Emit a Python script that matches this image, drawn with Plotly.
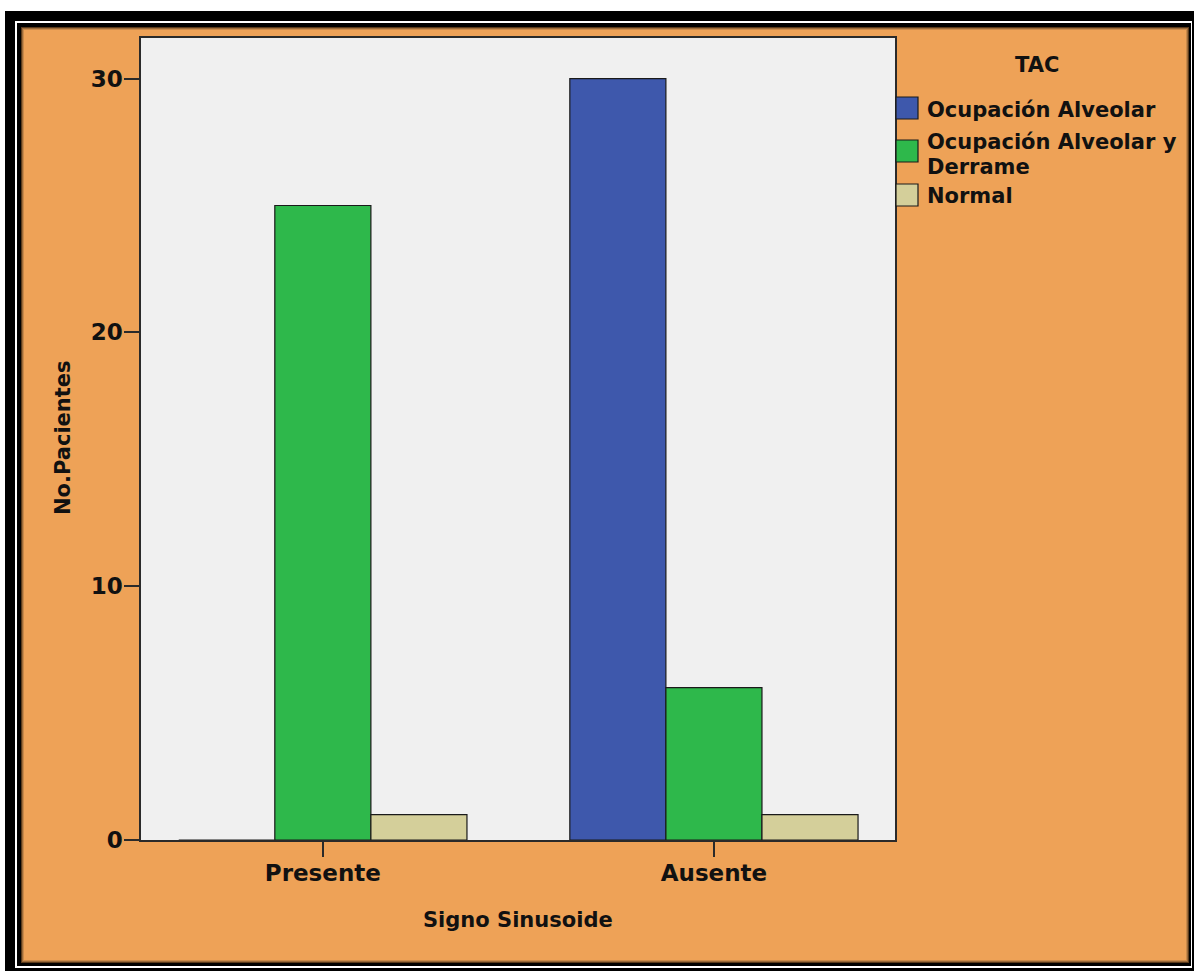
import plotly.graph_objects as go

# Data
categories = ["Presente", "Ausente"]
series_names = ["Ocupación Alveolar", "Ocupación Alveolar y Derrame", "Normal"]
ocupacion_alveolar = [0, 30]
ocupacion_derrame = [25, 6]
normal = [1, 1]
y_ticks = [0, 10, 20, 30]

series_values = [ocupacion_alveolar, ocupacion_derrame, normal]
colors = ["#3E58AC", "#2EB84B", "#D4CF9A"]

W, H = 1195, 972
L, R, T, B = 141, 895, 38, 840  # plot area in pixels


def px(x):
    return (x - L) / (R - L)


def py(y):
    return (B - y) / (B - T)


FONT = "DejaVu Sans"

fig = go.Figure()
for name, vals, col in zip(series_names, series_values, colors):
    fig.add_trace(go.Bar(
        x=categories, y=vals, name=name,
        marker=dict(color=col, line=dict(color="#1a1a1a", width=1.2)),
        showlegend=False,
    ))

shapes = []


def rect(x0, y0, x1, y1, color, layer="below"):
    shapes.append(dict(type="rect", xref="paper", yref="paper",
                       x0=px(x0), x1=px(x1), y0=py(y1), y1=py(y0),
                       fillcolor=color, line=dict(width=0), layer=layer))


# page frame: black / white / black borders around the orange panel
rect(5, 11, 1194, 971, "#000000")
rect(15, 21, 1192, 968, "#ffffff")
rect(17, 23, 1191, 966, "#000000")
# soft inner shadow
rect(21, 27, 1189, 963, "#5a3a1a")
rect(22, 28, 1188, 962, "#9a6a3a")
rect(23, 29, 1187, 961, "#c98a4a")
rect(24, 30, 1186, 960, "#EEA257")
# plot area background
rect(L, T, R, B, "#F0F0F0")

# custom legend swatches
legend_boxes = [(97, 119), (140, 162), (184, 206)]
for (y0, y1), col in zip(legend_boxes, colors):
    shapes.append(dict(type="rect", xref="paper", yref="paper",
                       x0=px(896), x1=px(918), y0=py(y1), y1=py(y0),
                       fillcolor=col, line=dict(color="#1a1a1a", width=1.2),
                       layer="above"))

annotations = []
txt = dict(family=FONT, size=21, color="#111111", weight="bold")
annotations.append(dict(text="TAC", x=px(1037), y=py(65), xref="paper", yref="paper",
                        showarrow=False, font=txt, xanchor="center", yanchor="middle"))
legend_lines = [
    (series_names[0], 110),
    ("Ocupación Alveolar y", 142),
    ("Derrame", 167),
    (series_names[2], 196),
]
for t, yc in legend_lines:
    annotations.append(dict(text=t, x=px(925), y=py(yc), xref="paper", yref="paper",
                            showarrow=False, font=txt, xanchor="left", yanchor="middle"))

# axis titles
annotations.append(dict(text="Signo Sinusoide", x=0.5, y=py(920), xref="paper", yref="paper",
                        showarrow=False, font=txt, xanchor="center", yanchor="middle"))
annotations.append(dict(text="No.Pacientes", x=px(63), y=py(438), xref="paper", yref="paper",
                        showarrow=False, font=txt, xanchor="center", yanchor="middle",
                        textangle=-90))

tickfont = dict(family=FONT, size=23, color="#111111", weight="bold")

fig.update_layout(
    width=W, height=H,
    margin=dict(l=L, r=W - R, t=T, b=H - B, pad=0),
    paper_bgcolor="#ffffff",
    plot_bgcolor="#F0F0F0",
    barmode="group",
    bargap=0.263,
    bargroupgap=0,
    shapes=shapes,
    annotations=annotations,
    xaxis=dict(
        range=[-0.465, 1.463], showgrid=False, zeroline=False,
        showline=True, linecolor="#2a2a2a", linewidth=1.5, mirror=True,
        ticks="outside", ticklen=15, tickwidth=1.5, tickcolor="#2a2a2a",
        tickfont=tickfont, ticklabelstandoff=-3,
    ),
    yaxis=dict(
        range=[0, 31.6], tickvals=y_ticks, showgrid=False, zeroline=False,
        showline=True, linecolor="#2a2a2a", linewidth=1.5, mirror=True,
        ticks="outside", ticklen=15, tickwidth=1.5, tickcolor="#2a2a2a",
        tickfont=tickfont, ticklabelstandoff=-3,
    ),
    showlegend=False,
)

fig.write_html("out.html")
